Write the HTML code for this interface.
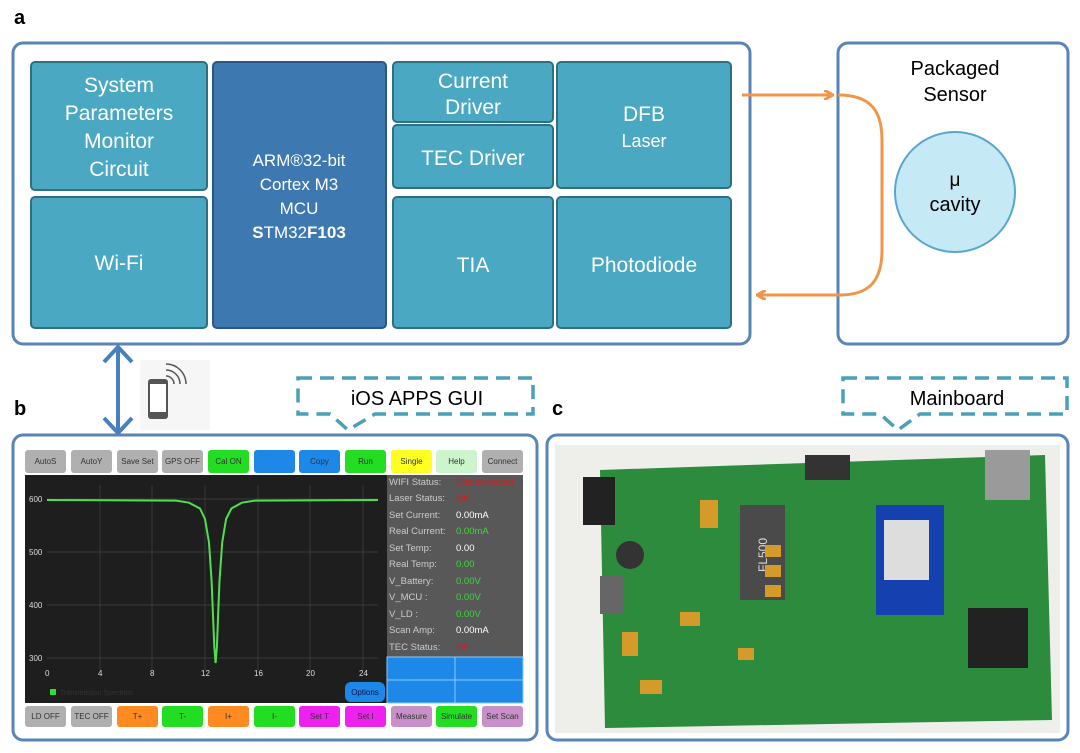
<!DOCTYPE html>
<html><head><meta charset="utf-8"><style>
body{margin:0;background:#fff;}
svg{display:block;font-family:"Liberation Sans",sans-serif;}
</style></head><body>
<svg width="1080" height="753" viewBox="0 0 1080 753">
<defs>
<marker id="oa" markerWidth="10" markerHeight="10" refX="8" refY="5" orient="auto" markerUnits="userSpaceOnUse"><path d="M0,0 L9,5 L0,10" fill="none" stroke="#f0964a" stroke-width="3"/></marker>
</defs>
<!-- labels -->
<text x="14" y="24" font-size="20" font-weight="bold">a</text>
<text x="14" y="415" font-size="20" font-weight="bold">b</text>
<text x="552" y="415" font-size="20" font-weight="bold">c</text>

<!-- panel a -->
<rect x="13" y="43" width="737" height="301" rx="10" fill="#fff" stroke="#5a84b8" stroke-width="3"/>
<g stroke="#2f6f86" stroke-width="2" fill="#4aa8c2">
<rect x="31" y="62" width="176" height="128" rx="4"/>
<rect x="31" y="197" width="176" height="131" rx="4"/>
<rect x="213" y="62" width="173" height="266" rx="4" fill="#3d78b1" stroke="#2a5685"/>
<rect x="393" y="62" width="160" height="60" rx="4"/>
<rect x="393" y="125" width="160" height="63" rx="4"/>
<rect x="557" y="62" width="174" height="126" rx="4"/>
<rect x="393" y="197" width="160" height="131" rx="4"/>
<rect x="557" y="197" width="174" height="131" rx="4"/>
</g>
<g fill="#fff" font-size="21" text-anchor="middle">
<text x="119" y="92">System</text><text x="119" y="120">Parameters</text><text x="119" y="148">Monitor</text><text x="119" y="176">Circuit</text>
<text x="119" y="270">Wi-Fi</text>
<text x="299" y="166" font-size="17">ARM®32-bit</text><text x="299" y="190" font-size="17">Cortex M3</text><text x="299" y="214" font-size="17">MCU</text>
<text x="299" y="238" font-size="17"><tspan font-weight="bold">S</tspan>TM32<tspan font-weight="bold">F103</tspan></text>
<text x="473" y="88">Current</text><text x="473" y="114">Driver</text>
<text x="473" y="165">TEC Driver</text>
<text x="644" y="121">DFB</text><text x="644" y="147" font-size="18">Laser</text>
<text x="473" y="272">TIA</text>
<text x="644" y="272">Photodiode</text>
</g>

<!-- panel a right -->
<rect x="838" y="43" width="230" height="301" rx="10" fill="#fff" stroke="#5a84b8" stroke-width="3"/>
<text x="955" y="75" font-size="20" text-anchor="middle">Packaged</text>
<text x="955" y="101" font-size="20" text-anchor="middle">Sensor</text>
<circle cx="955" cy="192" r="60" fill="#c6e9f6" stroke="#5aa5cc" stroke-width="2"/>
<text x="955" y="186" font-size="19" text-anchor="middle">μ</text>
<text x="955" y="211" font-size="20" text-anchor="middle">cavity</text>
<path d="M742,95 L832,95" stroke="#f0964a" stroke-width="3" fill="none" marker-end="url(#oa)"/>
<path d="M838,95 C870,95 882,110 882,140 L882,250 C882,282 868,295 840,295 L758,295" stroke="#f0964a" stroke-width="3" fill="none" marker-end="url(#oa)"/>

<!-- double arrow -->
<g stroke="#4a7fbf" stroke-width="4" fill="none">
<line x1="118" y1="348" x2="118" y2="432"/>
<path d="M104,362 L118,347 L132,362"/><path d="M104,418 L118,433 L132,418"/>
</g>
<!-- phone -->
<rect x="140" y="360" width="70" height="70" fill="#f6f6f6"/>
<rect x="148" y="379" width="20" height="40" rx="3" fill="#555"/>
<rect x="150" y="384" width="16" height="28" fill="#fff"/>
<g stroke="#555" stroke-width="1.5" fill="none"><path d="M166,376 a8,8 0 0 1 8,8"/><path d="M166,370 a14,14 0 0 1 14,14"/><path d="M166,364 a20,20 0 0 1 20,20"/></g>

<!-- callouts -->
<g stroke="#4aa0b6" stroke-width="3.5" fill="none" stroke-dasharray="14,8">
<path d="M298,378 L533,378 L533,414 L375,414 L348,430 L330,414 L298,414 Z"/>
<path d="M843,378 L1067,378 L1067,414 L920,414 L898,430 L880,414 L843,414 Z"/>
</g>
<text x="417" y="405" font-size="20" text-anchor="middle">iOS APPS GUI</text>
<text x="957" y="405" font-size="20" text-anchor="middle">Mainboard</text>

<!-- panel b -->
<rect x="13" y="435" width="524" height="305" rx="10" fill="#fff" stroke="#5a84b8" stroke-width="3"/>
<g font-size="8" text-anchor="middle" fill="#333">
<rect x="25" y="450" width="41" height="23" rx="3" fill="#b0b0b0"/><text x="45.5" y="464">AutoS</text>
<rect x="71" y="450" width="41" height="23" rx="3" fill="#b0b0b0"/><text x="91.5" y="464">AutoY</text>
<rect x="117" y="450" width="41" height="23" rx="3" fill="#b0b0b0"/><text x="137.5" y="464">Save Set</text>
<rect x="162" y="450" width="41" height="23" rx="3" fill="#b0b0b0"/><text x="182.5" y="464">GPS OFF</text>
<rect x="208" y="450" width="41" height="23" rx="3" fill="#22dd22"/><text x="228.5" y="464">Cal ON</text>
<rect x="254" y="450" width="41" height="23" rx="3" fill="#1e88e8"/>
<rect x="299" y="450" width="41" height="23" rx="3" fill="#1e88e8"/><text x="319.5" y="464">Copy</text>
<rect x="345" y="450" width="41" height="23" rx="3" fill="#22dd22"/><text x="365.5" y="464">Run</text>
<rect x="391" y="450" width="41" height="23" rx="3" fill="#ffff22"/><text x="411.5" y="464">Single</text>
<rect x="436" y="450" width="41" height="23" rx="3" fill="#ccf5cc"/><text x="456.5" y="464">Help</text>
<rect x="482" y="450" width="41" height="23" rx="3" fill="#b0b0b0"/><text x="502.5" y="464">Connect</text>

<rect x="25" y="706" width="41" height="21" rx="3" fill="#b0b0b0"/><text x="45.5" y="719">LD OFF</text>
<rect x="71" y="706" width="41" height="21" rx="3" fill="#b0b0b0"/><text x="91.5" y="719">TEC OFF</text>
<rect x="117" y="706" width="41" height="21" rx="3" fill="#ff8a22"/><text x="137.5" y="719">T+</text>
<rect x="162" y="706" width="41" height="21" rx="3" fill="#22dd22"/><text x="182.5" y="719">T-</text>
<rect x="208" y="706" width="41" height="21" rx="3" fill="#ff8a22"/><text x="228.5" y="719">I+</text>
<rect x="254" y="706" width="41" height="21" rx="3" fill="#22dd22"/><text x="274.5" y="719">I-</text>
<rect x="299" y="706" width="41" height="21" rx="3" fill="#ee22ee"/><text x="319.5" y="719">Set T</text>
<rect x="345" y="706" width="41" height="21" rx="3" fill="#ee22ee"/><text x="365.5" y="719">Set I</text>
<rect x="391" y="706" width="41" height="21" rx="3" fill="#c890c8"/><text x="411.5" y="719">Measure</text>
<rect x="436" y="706" width="41" height="21" rx="3" fill="#22dd22"/><text x="456.5" y="719">Simulate</text>
<rect x="482" y="706" width="41" height="21" rx="3" fill="#c890c8"/><text x="502.5" y="719">Set Scan</text>
</g>
<!-- chart -->
<rect x="25" y="475" width="362" height="228" fill="#1e1e1e"/>
<g stroke="#444" stroke-width="0.7">
<line x1="47" y1="499" x2="378" y2="499"/><line x1="47" y1="552" x2="378" y2="552"/><line x1="47" y1="605" x2="378" y2="605"/><line x1="47" y1="658" x2="378" y2="658"/>
<line x1="100" y1="485" x2="100" y2="670"/><line x1="152" y1="485" x2="152" y2="670"/><line x1="205" y1="485" x2="205" y2="670"/><line x1="258" y1="485" x2="258" y2="670"/><line x1="310" y1="485" x2="310" y2="670"/><line x1="363" y1="485" x2="363" y2="670"/>
</g>
<g fill="#ddd" font-size="8">
<text x="29" y="502">600</text><text x="29" y="555">500</text><text x="29" y="608">400</text><text x="29" y="661">300</text>
<text x="45" y="676">0</text><text x="98" y="676">4</text><text x="150" y="676">8</text><text x="201" y="676">12</text><text x="254" y="676">16</text><text x="306" y="676">20</text><text x="359" y="676">24</text>
</g>
<polyline fill="none" stroke="#4ee04e" stroke-width="2" points="47,500 176,500.6 189,502.7 200,508.5 205,519 209,542.5 211.6,581 212.9,613 214.3,647 215.6,663 216.9,647 218.2,613 219.5,581 222.2,542.5 226.1,519 231.4,508.5 241.9,502.7 255,500.6 378,500"/>
<rect x="50" y="689" width="6" height="6" fill="#3d3"/>
<text x="60" y="695" font-size="7" fill="#333">Transmission Spectrum</text>
<rect x="345" y="682" width="40" height="20" rx="6" fill="#1e88e8"/><text x="365" y="695" font-size="8" fill="#114" text-anchor="middle">Options</text>
<!-- status -->
<rect x="387" y="475" width="136" height="182" fill="#585858"/>
<g font-size="9.5" fill="#ccc">
<text x="389" y="485">WIFI Status:</text><text x="389" y="501">Laser Status:</text><text x="389" y="518">Set Current:</text><text x="389" y="534">Real Current:</text><text x="389" y="551">Set Temp:</text><text x="389" y="567">Real Temp:</text><text x="389" y="584">V_Battery:</text><text x="389" y="600">V_MCU :</text><text x="389" y="617">V_LD :</text><text x="389" y="633">Scan Amp:</text><text x="389" y="650">TEC Status:</text>
<text x="456" y="485" fill="#c22">Disconnected</text><text x="456" y="501" fill="#c22">Off</text>
<text x="456" y="518" fill="#fff">0.00mA</text><text x="456" y="534" fill="#3d3">0.00mA</text>
<text x="456" y="551" fill="#fff">0.00</text><text x="456" y="567" fill="#3d3">0.00</text>
<text x="456" y="584" fill="#3d3">0.00V</text><text x="456" y="600" fill="#3d3">0.00V</text><text x="456" y="617" fill="#3d3">0.00V</text>
<text x="456" y="633" fill="#fff">0.00mA</text><text x="456" y="650" fill="#c22">Off</text>
</g>
<rect x="387" y="657" width="136" height="46" fill="#1e88e8" stroke="#8cf" stroke-width="1"/>
<line x1="455" y1="657" x2="455" y2="703" stroke="#8cf"/><line x1="387" y1="680" x2="523" y2="680" stroke="#8cf"/>

<!-- panel c -->
<rect x="547" y="435" width="521" height="305" rx="10" fill="#fff" stroke="#5a84b8" stroke-width="3"/>
<rect x="555" y="445" width="505" height="288" fill="#eeeeea"/>
<polygon points="600,470 1045,455 1052,720 605,728" fill="#2c8b3c"/>
<rect x="583" y="477" width="32" height="48" fill="#222"/>
<rect x="985" y="450" width="45" height="50" fill="#9a9a9a"/>
<rect x="805" y="455" width="45" height="25" fill="#333"/>
<rect x="740" y="505" width="45" height="95" fill="#4a4a4a"/>
<text x="762" y="560" font-size="12" fill="#ddd" text-anchor="middle" transform="rotate(-90 762 555)">FL500</text>
<rect x="876" y="505" width="68" height="110" fill="#1540b0"/>
<rect x="884" y="520" width="45" height="60" fill="#ddd"/>
<rect x="968" y="608" width="60" height="60" fill="#222"/>
<circle cx="630" cy="555" r="14" fill="#333"/>
<g fill="#d49a2a">
<rect x="700" y="500" width="18" height="28"/><rect x="765" y="545" width="16" height="12"/><rect x="765" y="565" width="16" height="12"/><rect x="765" y="585" width="16" height="12"/><rect x="680" y="612" width="20" height="14"/><rect x="622" y="632" width="16" height="24"/><rect x="640" y="680" width="22" height="14"/><rect x="738" y="648" width="16" height="12"/>
</g>
<rect x="600" y="576" width="24" height="38" fill="#666"/>
</svg>
</body></html>
